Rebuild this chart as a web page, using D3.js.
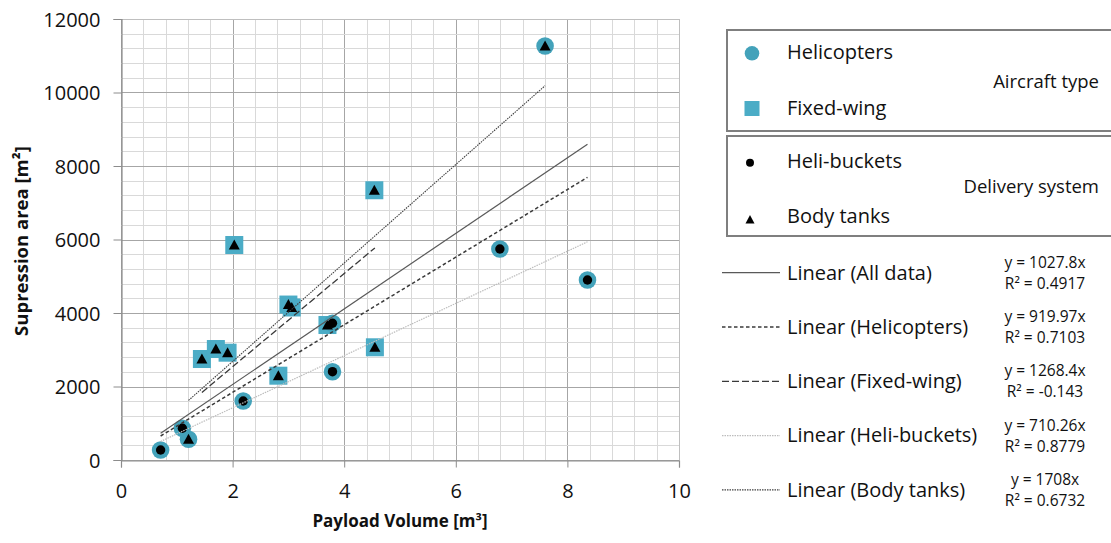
<!DOCTYPE html>
<html><head><meta charset="utf-8">
<script src="https://cdn.jsdelivr.net/npm/d3@7"></script>
<style>
body{margin:0;background:#fff}
svg{display:block}
text{font-family:"Open Sans",sans-serif;fill:#111}
</style>
</head><body>
<svg id="c" width="1111" height="543"></svg>
<script>
// ---- data ----
const payload  = [7.60, 4.54, 2.03, 3.00, 3.06, 1.45, 1.70, 1.91, 2.82, 3.70, 3.79, 4.55, 3.79, 2.19, 1.10, 1.21, 0.71, 6.79, 8.36];
const area     = [11265, 7340, 5850, 4230, 4150, 2748, 3020, 2920, 2294, 3673, 3720, 3067, 2403, 1605, 863, 563, 272, 5741, 4898];
const aircraft = ["Helicopters","Fixed-wing","Fixed-wing","Fixed-wing","Fixed-wing","Fixed-wing","Fixed-wing","Fixed-wing","Fixed-wing","Fixed-wing","Helicopters","Fixed-wing","Helicopters","Helicopters","Helicopters","Helicopters","Helicopters","Helicopters","Helicopters"];
const delivery = ["Body tanks","Body tanks","Body tanks","Body tanks","Body tanks","Body tanks","Body tanks","Body tanks","Body tanks","Body tanks","Heli-buckets","Body tanks","Heli-buckets","Heli-buckets","Heli-buckets","Body tanks","Heli-buckets","Heli-buckets","Heli-buckets"];

const xTicks = [0, 2, 4, 6, 8, 10];
const yTicks = [0, 2000, 4000, 6000, 8000, 10000, 12000];

const trendNames  = ["All data", "Helicopters", "Fixed-wing", "Heli-buckets", "Body tanks"];
const trendSlopes = [1027.8, 919.97, 1268.4, 710.26, 1340];
const eqLabels    = ["y = 1027.8x", "y = 919.97x", "y = 1268.4x", "y = 710.26x", "y = 1708x"];
const r2Labels    = ["R² = 0.4917", "R² = 0.7103", "R² = -0.143", "R² = 0.8779", "R² = 0.6732"];

const aircraftTypes = ["Helicopters", "Fixed-wing"];
const deliveryTypes = ["Heli-buckets", "Body tanks"];

// ---- layout ----
const svg = d3.select("#c");
const X0 = 121, X1 = 679, Y0 = 19, Y1 = 460;
const x = d3.scaleLinear().domain([0, 10]).range([X0, X1]);
const y = d3.scaleLinear().domain([0, 12000]).range([Y1, Y0]);

const pts = payload.map((v, i) => ({x: v, y: area[i], a: aircraft[i], d: delivery[i]}));

// grid
const g = svg.append("g");
d3.range(0, 10.001, 0.4).forEach(v => {
  const major = Math.abs(v / 2 - Math.round(v / 2)) < 1e-6;
  g.append("line").attr("x1", Math.round(x(v)) + 0.5).attr("x2", Math.round(x(v)) + 0.5)
    .attr("y1", Y0).attr("y2", Y1).attr("stroke", major ? "#a6a6a6" : "#d9d9d9").attr("stroke-width", 1);
});
d3.range(0, 12000.1, 400).forEach(v => {
  const major = v % 2000 === 0;
  g.append("line").attr("y1", Math.round(y(v)) + 0.5).attr("y2", Math.round(y(v)) + 0.5)
    .attr("x1", X0).attr("x2", X1).attr("stroke", major ? "#a6a6a6" : "#d9d9d9").attr("stroke-width", 1);
});
g.append("line").attr("x1", X0).attr("x2", X1).attr("y1", Y0 + 0.5).attr("y2", Y0 + 0.5).attr("stroke", "#bfbfbf");
g.append("line").attr("x1", X1 + 0.5).attr("x2", X1 + 0.5).attr("y1", Y0).attr("y2", Y1).attr("stroke", "#bfbfbf");

// axes
const xAxis = d3.axisBottom(x).tickValues(xTicks).tickSize(7).tickPadding(16).tickFormat(d3.format("d"));
const yAxis = d3.axisLeft(y).tickValues(yTicks).tickSize(8).tickPadding(13).tickFormat(d3.format("d"));
const gx = svg.append("g").attr("transform", `translate(0,${Math.round(Y1) + 0.5})`).call(xAxis);
const gy = svg.append("g").attr("transform", `translate(${X0 + 0.5},0)`).call(yAxis);
[gx, gy].forEach(a => {
  a.select(".domain").attr("stroke", "#8c8c8c").attr("stroke-width", 1.2);
  a.selectAll(".tick line").attr("stroke", "#8c8c8c");
  a.selectAll(".tick text").attr("font-size", 20).attr("font-family", "'Open Sans',sans-serif").attr("fill", "#111");
});
gx.selectAll(".tick text").attr("dy", "0.71em");
gy.selectAll(".tick text").attr("dy", "0.36em");

// axis titles
svg.append("text").attr("x", (X0 + X1) / 2).attr("y", 527).attr("text-anchor", "middle")
  .attr("font-size", 17).attr("font-weight", "bold").text("Payload Volume [m³]");
svg.append("text").attr("transform", "translate(28,241) rotate(-90)").attr("text-anchor", "middle")
  .attr("font-size", 18.5).attr("font-weight", "bold").text("Supression area [m²]");

// markers
const CIRCLE = "#43a2ba", SQUARE = "#4bacc6";
const mk = svg.append("g");
pts.forEach(p => {
  if (p.a === "Helicopters") {
    mk.append("circle").attr("cx", x(p.x)).attr("cy", y(p.y)).attr("r", 8.8).attr("fill", CIRCLE);
  } else {
    mk.append("rect").attr("x", x(p.x) - 9).attr("y", y(p.y) - 9).attr("width", 18).attr("height", 18).attr("fill", SQUARE);
  }
});
pts.forEach(p => {
  if (p.d === "Heli-buckets") {
    mk.append("circle").attr("cx", x(p.x)).attr("cy", y(p.y)).attr("r", 4.7).attr("fill", "#000");
  } else {
    mk.append("path").attr("transform", `translate(${x(p.x)},${y(p.y)})`)
      .attr("d", "M0,-5.5 L5.5,4.5 L-5.5,4.5 Z").attr("fill", "#000");
  }
});

// trendlines
const trendStyle = [
  {c: "#595959", w: 1.2, d: null},
  {c: "#3a3a3a", w: 1.5, d: "3.5,2.5"},
  {c: "#3a3a3a", w: 1.3, d: "7,3"},
  {c: "#bdbdbd", w: 1.2, d: "1.5,1"},
  {c: "#404040", w: 1.1, d: "1.5,1"}
];
function subset(name) {
  if (name === "All data") return pts;
  if (aircraftTypes.includes(name)) return pts.filter(p => p.a === name);
  return pts.filter(p => p.d === name);
}
const line = d3.line().x(d => x(d[0])).y(d => y(d[1]));
trendNames.forEach((n, i) => {
  const ext = d3.extent(subset(n), p => p.x);
  const s = trendStyle[i];
  svg.append("path").attr("d", line(ext.map(v => [v, trendSlopes[i] * v])))
    .attr("fill", "none").attr("stroke", s.c).attr("stroke-width", s.w)
    .attr("stroke-dasharray", s.d);
});

// legend boxes
const lg = svg.append("g");
lg.append("rect").attr("x", 727).attr("y", 30).attr("width", 420).attr("height", 101)
  .attr("fill", "none").attr("stroke", "#7f7f7f").attr("stroke-width", 2);
lg.append("rect").attr("x", 727).attr("y", 136).attr("width", 420).attr("height", 100)
  .attr("fill", "none").attr("stroke", "#7f7f7f").attr("stroke-width", 2);

lg.append("circle").attr("cx", 752).attr("cy", 53.3).attr("r", 7.3).attr("fill", CIRCLE);
lg.append("rect").attr("x", 744.5).attr("y", 101).attr("width", 15).attr("height", 15).attr("fill", SQUARE);
lg.append("circle").attr("cx", 750).attr("cy", 162.7).attr("r", 4).attr("fill", "#000");
lg.append("path").attr("transform", "translate(750,219.5)").attr("d", "M0,-4.5 L4.5,4 L-4.5,4 Z").attr("fill", "#000");

const boxBase = [59.3, 115, 168.3, 223.3];
[...aircraftTypes, ...deliveryTypes].forEach((t, i) => {
  lg.append("text").attr("x", 787).attr("y", boxBase[i]).attr("font-size", 20).text(t);
});
lg.append("text").attr("x", 1099).attr("y", 87.7).attr("text-anchor", "end").attr("font-size", 18.5).text("Aircraft type");
lg.append("text").attr("x", 1099).attr("y", 192.7).attr("text-anchor", "end").attr("font-size", 18.5).text("Delivery system");

// trendline legend
trendNames.forEach((n, i) => {
  const ly = 272.7 + i * 54.3;
  const s = trendStyle[i];
  lg.append("line").attr("x1", 722).attr("x2", 780).attr("y1", ly).attr("y2", ly)
    .attr("stroke", s.c).attr("stroke-width", s.w).attr("stroke-dasharray", s.d);
  lg.append("text").attr("x", 787).attr("y", ly + 6.8).attr("font-size", 20).text(`Linear (${n})`);
  lg.append("text").attr("x", 1045).attr("y", ly - 5).attr("text-anchor", "middle").attr("font-size", 15.5).text(eqLabels[i]);
  lg.append("text").attr("x", 1045).attr("y", ly + 16).attr("text-anchor", "middle").attr("font-size", 15.5).text(r2Labels[i]);
});
</script>
</body></html>
